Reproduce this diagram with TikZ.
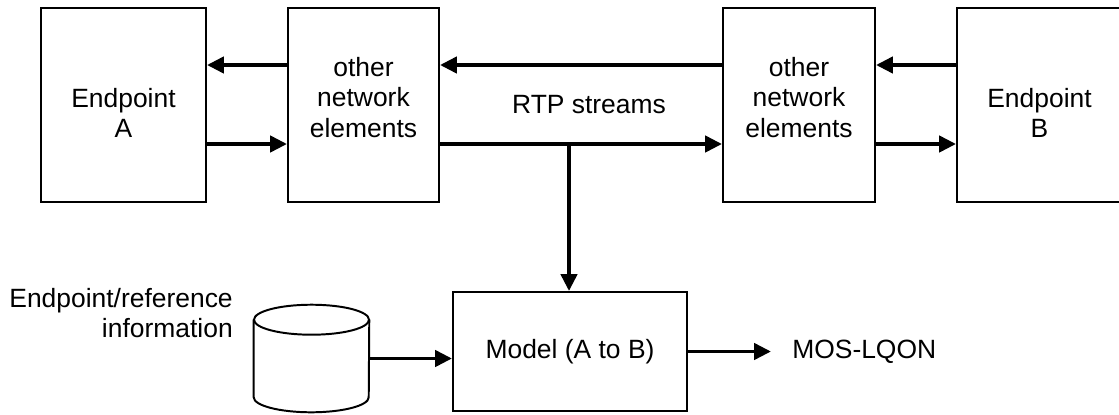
\documentclass[tikz,border=0pt]{standalone}
\usepackage{fontspec}
\setmainfont{Liberation Sans}
\usetikzlibrary{arrows.meta}
\begin{document}
\begin{tikzpicture}[
	font=\fontsize{18.8}{21.5}\selectfont,
	box/.style={draw, line width=1.4pt, inner sep=0pt},
	boxtext/.style={align=center, inner sep=0pt},
	flow/.style={line width=2.8pt, -{Triangle[length=0.42cm,width=0.4cm]}},
	]
	\useasboundingbox (0, 0) rectangle (27.975, 10.35);
	\node[box, minimum width=4.125cm, minimum height=4.85cm] (epa) at (3.0875, 7.725) {};
	\node[box, minimum width=3.775cm, minimum height=4.85cm] (netl) at (9.0875, 7.725) {};
	\node[box, minimum width=3.8cm, minimum height=4.85cm] (netr) at (19.975, 7.725) {};
	\node[box, minimum width=4.125cm, minimum height=4.85cm] (epb) at (25.9875, 7.725) {};
	\node[box, minimum width=5.85cm, minimum height=2.975cm] (model) at (14.25, 1.5625) {Model (A to B)};
	\node[boxtext] (epatext) at ([yshift=-0.19cm]epa.center) {Endpoint\\A};
	\node[boxtext] (netltext) at ([yshift=0.19cm]netl.center) {other\\network\\elements};
	\node[boxtext] (netrtext) at ([yshift=0.19cm]netr.center) {other\\network\\elements};
	\node[boxtext] (epbtext) at ([yshift=-0.19cm]epb.center) {Endpoint\\B};
	\node[inner sep=0pt, minimum width=2.875cm, minimum height=2.675cm] (db) at (7.7875, 1.3875) {};
	\draw[line width=1.4pt] ([yshift=-0.375cm]db.north) ellipse [x radius=1.4375, y radius=0.375];
	\draw[line width=1.4pt] ([yshift=-0.375cm]db.north west) -- ([yshift=0.375cm]db.south west)
		arc[start angle=180, end angle=360, x radius=1.4375, y radius=0.375] -- ([yshift=-0.375cm]db.north east);
	\node[inner sep=0pt] (rtp) at (14.725, 7.725) {RTP streams};
	\node[anchor=east, align=right, inner sep=0pt] (info) at (5.825, 2.525) {Endpoint/reference\\information};
	\node[anchor=west, inner xsep=0.525cm, inner ysep=0pt] (mos) at (19.275, 1.5625) {MOS-LQON};
	\draw[flow] ([yshift=1cm]netl.west) -- ([yshift=1cm]epa.east);
	\draw[flow] ([yshift=-0.975cm]epa.east) -- ([yshift=-0.975cm]netl.west);
	\draw[flow] ([yshift=1cm]netr.west) -- ([yshift=1cm]netl.east);
	\draw[flow] ([yshift=-0.975cm]netl.east) -- ([yshift=-0.975cm]netr.west);
	\draw[flow] ([yshift=1cm]epb.west) -- ([yshift=1cm]netr.east);
	\draw[flow] ([yshift=-0.975cm]netr.east) -- ([yshift=-0.975cm]epb.west);
	\coordinate (tap) at (14.225, 6.75);
	\draw[flow] (tap) -- (tap |- model.north);
	\draw[flow] (db.east) -- (db.east -| model.west);
	\draw[flow] (model.east) -- (mos.west);
\end{tikzpicture}
\end{document}
